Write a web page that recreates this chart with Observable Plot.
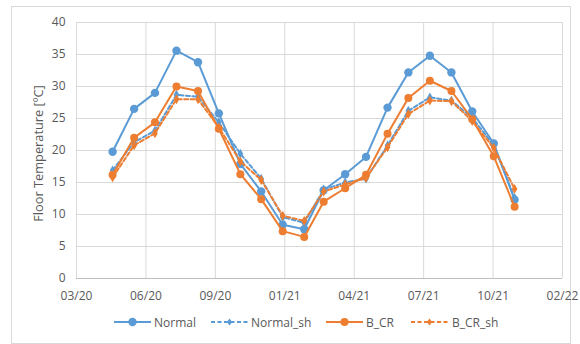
<!DOCTYPE html>
<html><head><meta charset="utf-8">
<script src="https://cdn.jsdelivr.net/npm/d3@7"></script>
<script src="https://cdn.jsdelivr.net/npm/@observablehq/plot@0.6"></script>
<style>
body{margin:0;background:#fff;}
#wrap{position:relative;width:580px;height:344px;font-family:"Open Sans",sans-serif;overflow:hidden;background:#fff}
#frame{position:absolute;left:11px;top:6px;width:560px;height:338px;border:1px solid #d9d9d9;box-sizing:border-box}
#chart{position:absolute;left:0;top:0}
.lg{position:absolute;top:314px;height:16px;display:flex;align-items:center;font-size:12px;color:#595959;white-space:nowrap}
.lg svg{display:block}
</style></head><body>
<div id="wrap"><div id="frame"></div><div id="chart"></div><div id="legendbox"></div></div>
<script>
// Data (monthly readings)
const months = ["2020-05-01","2020-06-01","2020-07-01","2020-08-01","2020-09-01","2020-10-01","2020-11-01","2020-12-01",
  "2021-01-01","2021-02-01","2021-03-01","2021-04-01","2021-05-01","2021-06-01","2021-07-01","2021-08-01",
  "2021-09-01","2021-10-01","2021-11-01","2021-12-01"];
const normal   = [19.8,26.5,29.0,35.6,33.8,25.8,17.9,13.6,8.4,7.7,13.8,16.3,19.0,26.7,32.2,34.8,32.2,26.1,21.1,12.3];
const normalSh = [16.9,21.3,23.1,28.7,28.4,24.4,19.5,15.6,9.6,8.7,13.9,15.0,15.6,20.8,26.2,28.3,27.8,25.1,20.8,12.6];
const bCR      = [16.2,22.0,24.4,30.0,29.3,23.4,16.3,12.4,7.4,6.5,12.0,14.1,16.2,22.6,28.2,30.9,29.3,24.9,19.1,11.2];
const bCRSh    = [15.8,20.8,22.7,28.0,28.0,23.6,18.3,15.4,9.8,9.0,13.6,14.7,15.7,20.5,25.7,27.8,27.7,24.6,20.4,14.0];
const seriesNames = ["Normal","Normal_sh","B_CR","B_CR_sh"];
const xTickLabels = ["2020-03-10","2020-06-18","2020-09-26","2021-01-04","2021-04-14","2021-07-23","2021-10-31","2022-02-08"];
const yTicks = [0,5,10,15,20,25,30,35,40];
const yTitle = "Floor Temperature [ºC]";

const values = [normal, normalSh, bCR, bCRSh];
const styles = [
  {color:"#5B9BD5", dash:null, symbol:"circle", r:4.2},
  {color:"#5B9BD5", dash:"4,2.5", symbol:"diamond", r:3},
  {color:"#ED7D31", dash:null, symbol:"circle", r:4},
  {color:"#ED7D31", dash:"4,2.5", symbol:"diamond", r:3}
];
const parse = d3.utcParse("%Y-%m-%d");
const xTicks = xTickLabels.map(parse);
const rows = seriesNames.map((name, i) => months.map((m, j) => ({series:name, date:parse(m), value:values[i][j]})));

const marks = [
  Plot.gridY(yTicks, {stroke:"#d9d9d9", strokeOpacity:1, strokeWidth:1}),
  Plot.gridX(xTicks, {stroke:"#d9d9d9", strokeOpacity:1, strokeWidth:1}),
  Plot.ruleY([0], {stroke:"#bfbfbf", strokeWidth:1}),
  Plot.axisX(xTicks, {tickSize:0, tickPadding:13, tickFormat:d3.utcFormat("%m/%y"), fontSize:12, fill:"#595959", label:null}),
  Plot.axisY(yTicks, {tickSize:0, tickPadding:11, fontSize:12, fill:"#595959", label:null}),
  Plot.text([yTitle], {frameAnchor:"left", dx:-38, dy:3, rotate:-90, fontSize:12.8, fill:"#595959", textAnchor:"middle"})
];
rows.forEach((r, i) => {
  const s = styles[i];
  marks.push(Plot.line(r, {x:"date", y:"value", stroke:s.color, strokeWidth:2, strokeDasharray:s.dash, curve:"linear"}));
  marks.push(Plot.dot(r, {x:"date", y:"value", fill:s.color, stroke:null, symbol:s.symbol, r:s.r}));
});

const chart = Plot.plot({
  width:580, height:305,
  marginLeft:76, marginRight:18, marginTop:22, marginBottom:27,
  style:{fontFamily:"'Open Sans',sans-serif", background:"transparent", overflow:"visible"},
  x:{type:"utc", domain:[xTicks[0], xTicks[xTicks.length-1]], axis:null},
  y:{domain:[0,40], axis:null},
  marks
});
document.getElementById("chart").appendChild(chart);

// Legend
const lgPos = [{line:114, text:154},{line:211, text:251},{line:326, text:366},{line:411, text:452}];
const box = document.getElementById("legendbox");
seriesNames.forEach((name, i) => {
  const s = styles[i];
  const d = document.createElement("div");
  d.className = "lg";
  d.style.left = lgPos[i].line + "px";
  const w = 37;
  const gap = lgPos[i].text - lgPos[i].line - w;
  const sym = s.symbol === "circle"
    ? `<circle cx="${w/2}" cy="8" r="${s.r}" fill="${s.color}"/>`
    : `<path d="M${w/2},${8-3.6}L${w/2+2.6},8L${w/2},${8+3.6}L${w/2-2.6},8Z" fill="${s.color}"/>`;
  d.innerHTML = `<svg width="${w}" height="16"><line x1="0" x2="${w}" y1="8" y2="8" stroke="${s.color}" stroke-width="2" ${s.dash ? `stroke-dasharray="${s.dash}"` : ""}/>${sym}</svg><span style="margin-left:${gap}px">${name}</span>`;
  box.appendChild(d);
});
</script>
</body></html>
